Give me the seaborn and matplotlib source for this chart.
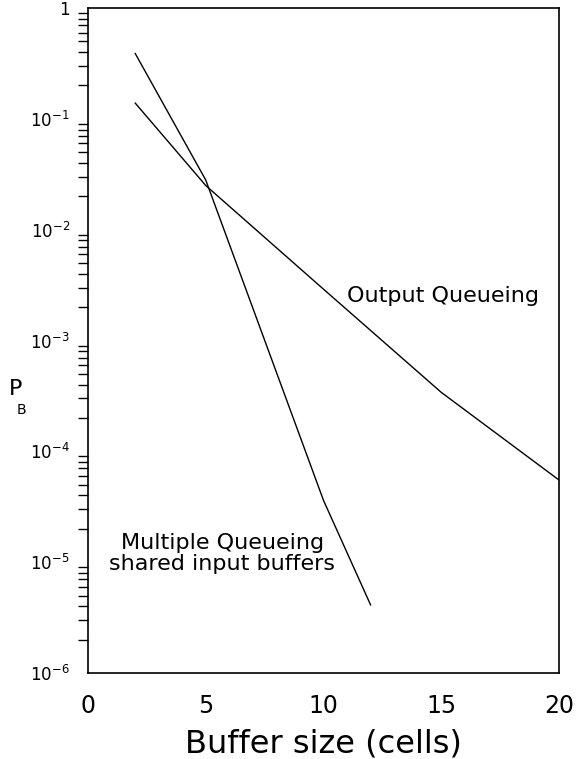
import matplotlib
matplotlib.use("Agg")
import matplotlib.pyplot as plt
import matplotlib.ticker as mticker
import numpy as np
import pandas as pd
import seaborn as sns

# Data
output_x = [2, 5, 10, 15, 20]
output_pb = [0.139, 0.025, 2.9e-3, 3.4e-4, 5.5e-5]
multi_x = [2, 5, 10, 12]
multi_pb = [0.39, 0.028, 3.6e-5, 4.1e-6]

x_ticks = [0, 5, 10, 15, 20]
y_ticks = [1e-6, 1e-5, 1e-4, 1e-3, 1e-2, 1e-1, 1]
y_tick_labels = [r"$10^{-6}$", r"$10^{-5}$", r"$10^{-4}$", r"$10^{-3}$",
                 r"$10^{-2}$", r"$10^{-1}$", "1"]

df = pd.concat([
    pd.DataFrame({"x": output_x, "pb": output_pb, "series": "Output Queueing"}),
    pd.DataFrame({"x": multi_x, "pb": multi_pb, "series": "Multiple Queueing"}),
])

sns.set_style("white")
plt.rcParams["font.family"] = ["DejaVu Sans"]
plt.rcParams["mathtext.fontset"] = "dejavusans"
plt.rcParams["text.color"] = "black"
plt.rcParams["axes.labelcolor"] = "black"
plt.rcParams["xtick.color"] = "black"
plt.rcParams["ytick.color"] = "black"

fig = plt.figure(figsize=(5.77, 7.59), dpi=100)
ax = fig.add_axes([0.1525, 0.1133, 0.969 - 0.1525, 0.9895 - 0.1133])

sns.lineplot(data=df, x="x", y="pb", hue="series",
             palette={"Output Queueing": "black", "Multiple Queueing": "black"},
             linewidth=1.0, legend=False, ax=ax, sort=False)

ax.set_yscale("log")
ax.set_xlim(0, 20)
ax.set_ylim(1e-6, 1)
ax.set_xticks(x_ticks)
ax.set_xticklabels([str(t) for t in x_ticks], fontsize=17)
ax.set_yticks(y_ticks)
ax.set_yticklabels(y_tick_labels, fontsize=12)
ax.yaxis.set_minor_locator(mticker.LogLocator(base=10, subs=np.arange(2, 10)))
ax.yaxis.set_minor_formatter(mticker.NullFormatter())
ax.tick_params(axis="both", which="major", direction="out", length=7, width=1.0, color="black")
ax.tick_params(axis="y", which="minor", direction="out", length=7, width=1.0, color="black", left=True)
ax.tick_params(axis="x", pad=8)
ax.tick_params(axis="y", pad=6)

for s in ax.spines.values():
    s.set_visible(True)
    s.set_color("black")
    s.set_linewidth(1.2)

ax.set_xlabel("Buffer size (cells)", fontsize=23, labelpad=8)
ax.set_ylabel("")

fig.text(0.027, 0.487, "P", fontsize=16, ha="center", va="center")
fig.text(0.038, 0.460, "B", fontsize=10, ha="center", va="center")

ax.text(11.0, 2.5e-3, "Output Queueing", fontsize=16, ha="left", va="center")
ax.text(5.7, 1.2e-5, "Multiple Queueing\nshared input buffers", fontsize=16,
        ha="center", va="center", linespacing=1.1)

fig.savefig("out.png", dpi=100)
